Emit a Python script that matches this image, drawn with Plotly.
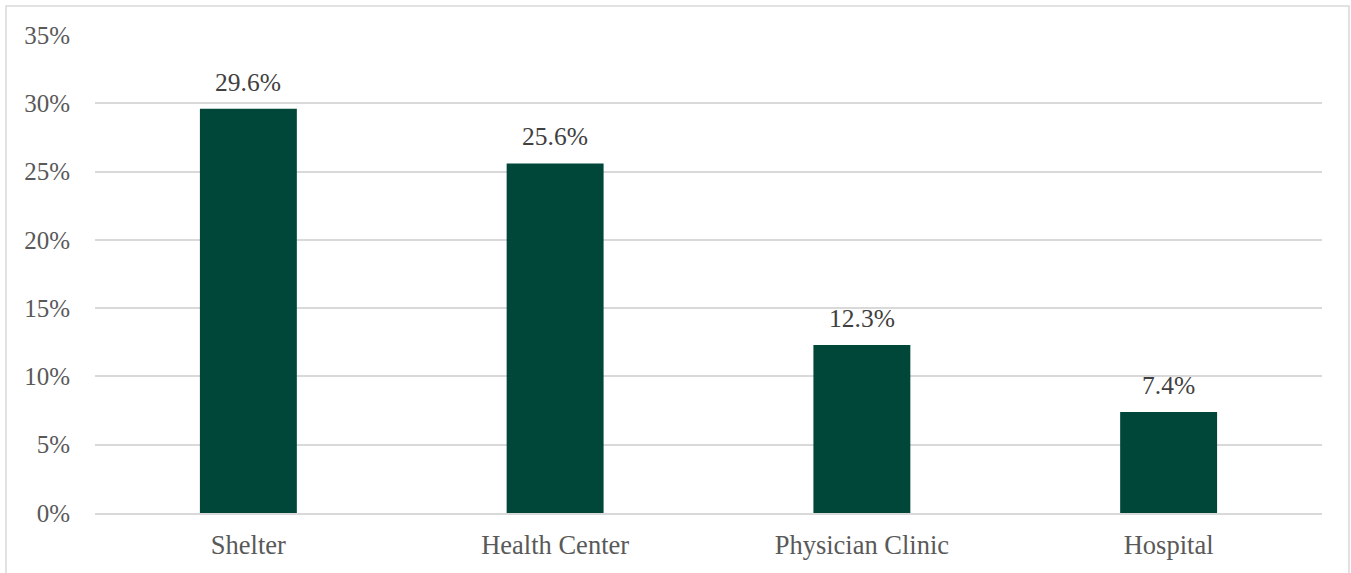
import plotly.graph_objects as go

categories = ["Shelter", "Health Center", "Physician Clinic", "Hospital"]
values = [29.6, 25.6, 12.3, 7.4]
tick_vals = [0, 5, 10, 15, 20, 25, 30, 35]
tick_text = ["0%", "5%", "10%", "15%", "20%", "25%", "30%", "35%"]

FONT = "Times New Roman"

fig = go.Figure(
    go.Bar(
        x=categories,
        y=values,
        marker=dict(color="#00473A", line=dict(width=0)),
        hoverinfo="skip",
    )
)

# value labels above each bar
for cat, val in zip(categories, values):
    fig.add_annotation(
        x=cat, y=val, xref="x", yref="y",
        text=f"{val:.1f}%",
        showarrow=False,
        yanchor="bottom",
        yshift=10,
        font=dict(family=FONT, size=25.5, color="#404040"),
    )

# outer chart frame
fig.add_shape(
    type="rect", xref="paper", yref="paper",
    x0=-89 / 1227, x1=1254 / 1227, y0=-66 / 478, y1=1 + 29 / 478,
    line=dict(color="#D9D9D9", width=1.5),
    fillcolor="rgba(0,0,0,0)",
    layer="below",
)

fig.update_layout(
    width=1351,
    height=573,
    margin=dict(l=95, r=29, t=35, b=60),
    paper_bgcolor="white",
    plot_bgcolor="white",
    bargap=0.684,
    showlegend=False,
    font=dict(family=FONT, size=25, color="#595959"),
    xaxis=dict(
        showgrid=False,
        showline=True,
        linecolor="#D9D9D9",
        linewidth=1.5,
        ticks="",
        tickfont=dict(family=FONT, size=26.5, color="#595959"),
        ticklabelstandoff=7,
    ),
    yaxis=dict(
        range=[0, 35],
        tickvals=tick_vals,
        ticktext=tick_text,
        showgrid=True,
        gridcolor="#D9D9D9",
        gridwidth=1.5,
        zeroline=False,
        showline=False,
        ticks="",
        tickfont=dict(family=FONT, size=25, color="#595959"),
        ticklabelstandoff=24,
    ),
)

fig.write_html("out.html")
